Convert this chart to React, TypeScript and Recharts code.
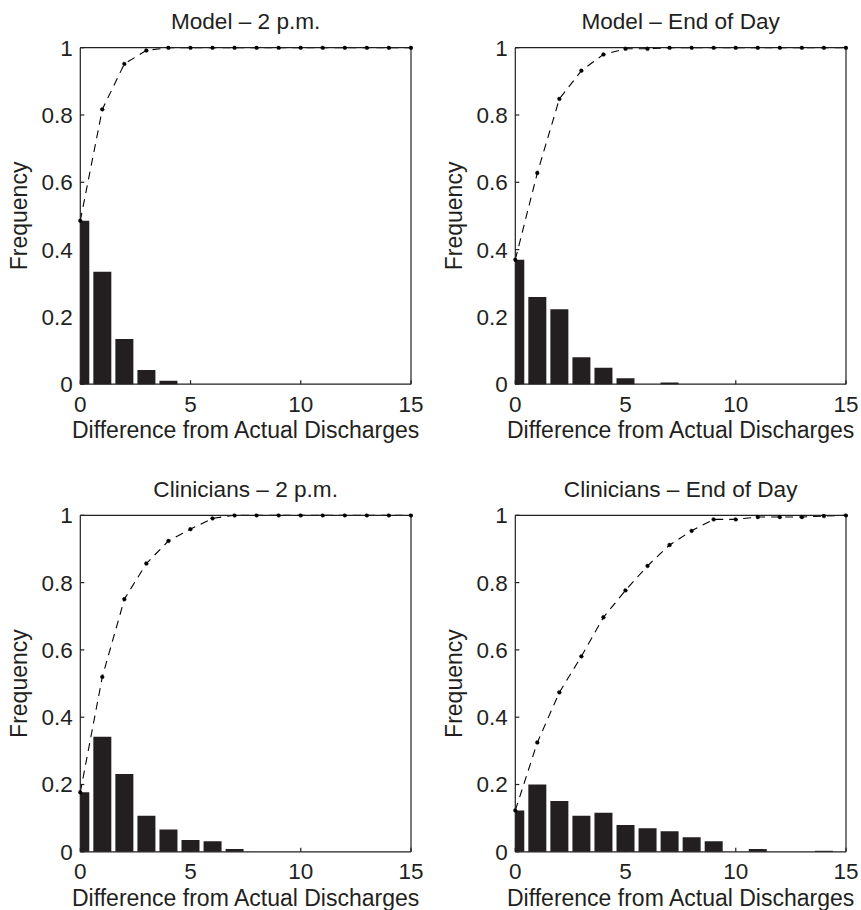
import React from 'react';
import { ComposedChart, Bar, Line, XAxis, YAxis } from 'recharts';

const diffs = [0, 1, 2, 3, 4, 5, 6, 7, 8, 9, 10, 11, 12, 13, 14, 15];
const xTicks = [0, 5, 10, 15];
const yTicks = [0, 0.2, 0.4, 0.6, 0.8, 1];

const titles = ['Model – 2 p.m.', 'Model – End of Day', 'Clinicians – 2 p.m.', 'Clinicians – End of Day'];
const xLabel = 'Difference from Actual Discharges';
const yLabel = 'Frequency';

const model2pmFreq = [0.486, 0.334, 0.134, 0.042, 0.010, 0, 0, 0, 0, 0, 0, 0, 0, 0, 0, 0];
const model2pmCum = [0.486, 0.817, 0.952, 0.992, 1, 1, 1, 1, 1, 1, 1, 1, 1, 1, 1, 1];

const modelEodFreq = [0.370, 0.259, 0.223, 0.080, 0.049, 0.018, 0, 0.005, 0, 0, 0, 0, 0, 0, 0, 0];
const modelEodCum = [0.370, 0.628, 0.848, 0.932, 0.980, 0.997, 0.997, 1, 1, 1, 1, 1, 1, 1, 1, 1];

const clin2pmFreq = [0.177, 0.342, 0.231, 0.107, 0.066, 0.035, 0.031, 0.008, 0, 0, 0, 0, 0, 0, 0, 0];
const clin2pmCum = [0.177, 0.520, 0.751, 0.857, 0.924, 0.959, 0.991, 1, 1, 1, 1, 1, 1, 1, 1, 1];

const clinEodFreq = [0.123, 0.200, 0.151, 0.107, 0.116, 0.080, 0.070, 0.061, 0.043, 0.031, 0, 0.008, 0, 0, 0.003, 0];
const clinEodCum = [0.123, 0.325, 0.474, 0.581, 0.697, 0.777, 0.850, 0.912, 0.954, 0.988, 0.988, 0.995, 0.995, 0.995, 0.998, 1];

const FONT = '"Liberation Sans", Arial, Helvetica, sans-serif';
const INK = '#231f20';
const W = 430;
const H = 455;
const PW = 330.7;
const PH = 336.5;

type PanelProps = {
  left: number;
  top: number;
  pl: number;
  pt: number;
  title: string;
  freq: number[];
  cum: number[];
};

function Panel({ left, top, pl, pt, title, freq, cum }: PanelProps) {
  const data = diffs.map((d, i) => ({ x: d, freq: freq[i], cum: cum[i] }));
  const margin = {
    left: pl - 70,
    right: W - pl - PW - 10,
    top: pt - 10,
    bottom: H - pt - PH - 30,
  };
  const cx = pl + PW / 2;
  const labelStyle = { fontFamily: FONT, fontSize: 23, fill: INK };
  const titleStyle = { fontFamily: FONT, fontSize: 22.6, fill: INK };
  return (
    <div style={{ position: 'absolute', left, top, width: W, height: H }}>
      <ComposedChart width={W} height={H} data={data} margin={margin} style={{ fontFamily: FONT }}>
        <XAxis
          xAxisId={0}
          dataKey="x"
          type="number"
          domain={[0, 15]}
          ticks={xTicks}
          interval={0}
          allowDataOverflow
          height={30}
          tickSize={-4}
          tickMargin={15.7}
          stroke={INK}
          strokeWidth={1.2}
          tick={{ fill: INK, fontSize: 22.5, fontFamily: FONT }}
          label={() => (
            <text x={cx} y={pt + PH + 53.7} textAnchor="middle" style={labelStyle}>
              {xLabel}
            </text>
          )}
        />
        <XAxis
          xAxisId="top"
          orientation="top"
          type="number"
          dataKey="x"
          domain={[0, 15]}
          ticks={xTicks}
          interval={0}
          height={10}
          tickSize={-4}
          tick={false}
          stroke={INK}
          strokeWidth={1.2}
          label={() => (
            <text x={cx} y={pt - 18.5} textAnchor="middle" style={titleStyle}>
              {title}
            </text>
          )}
        />
        <YAxis
          yAxisId={0}
          type="number"
          domain={[0, 1]}
          ticks={yTicks}
          interval={0}
          width={70}
          tickSize={-4}
          tickMargin={11.6}
          stroke={INK}
          strokeWidth={1.2}
          tick={{ fill: INK, fontSize: 22.5, fontFamily: FONT }}
          label={() => (
            <text
              x={pl - 52.8}
              y={pt + PH / 2}
              textAnchor="middle"
              transform={`rotate(-90, ${pl - 52.8}, ${pt + PH / 2})`}
              style={labelStyle}
            >
              {yLabel}
            </text>
          )}
        />
        <YAxis
          yAxisId="right"
          orientation="right"
          type="number"
          domain={[0, 1]}
          ticks={yTicks}
          interval={0}
          width={10}
          tickSize={-4}
          tick={false}
          stroke={INK}
          strokeWidth={1.2}
        />
        <Bar dataKey="freq" fill={INK} barSize={18} isAnimationActive={false} />
        <Line
          dataKey="cum"
          type="linear"
          stroke="#000"
          strokeWidth={1.1}
          strokeDasharray="8 6"
          dot={{ r: 1.9, fill: '#000', stroke: '#000', strokeWidth: 0.5, clipDot: false }}
          activeDot={false}
          isAnimationActive={false}
        />
      </ComposedChart>
    </div>
  );
}

export default function App() {
  return (
    <div style={{ position: 'absolute', left: 0, top: 0, width: 861, height: 910, background: '#fff', fontFamily: FONT }}>
      <Panel left={0} top={0} pl={80.3} pt={47.7} title={titles[0]} freq={model2pmFreq} cum={model2pmCum} />
      <Panel left={430} top={0} pl={85.3} pt={47.7} title={titles[1]} freq={modelEodFreq} cum={modelEodCum} />
      <Panel left={0} top={455} pl={80.3} pt={60.3} title={titles[2]} freq={clin2pmFreq} cum={clin2pmCum} />
      <Panel left={430} top={455} pl={85.3} pt={60.3} title={titles[3]} freq={clinEodFreq} cum={clinEodCum} />
    </div>
  );
}
